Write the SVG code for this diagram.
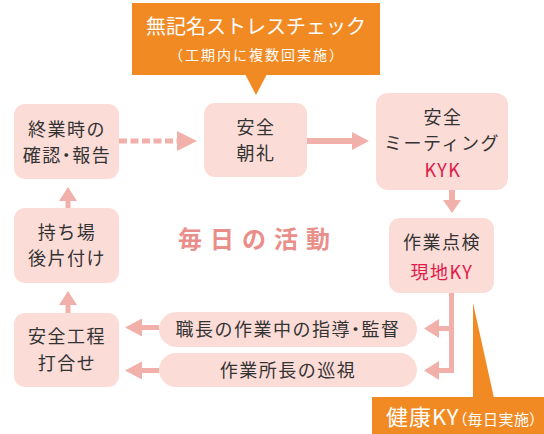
<svg xmlns="http://www.w3.org/2000/svg" width="544" height="434" viewBox="0 0 544 434">
<style>
.node{fill:#fcdcd7}
.t{font-family:"Noto Sans CJK JP","Noto Sans",sans-serif;font-size:18px;fill:#333;text-anchor:middle;letter-spacing:1.5px}
.r{fill:#e0194a}
.w{font-family:"Noto Sans CJK JP","Noto Sans",sans-serif;fill:#fff}
.p{font-feature-settings:"palt" 1}
.a{fill:#f2b0aa}
.ln{stroke:#f2b0aa;fill:none}
</style>
<rect width="544" height="434" fill="#fff"/>

<g id="callout-stress">
<rect x="132" y="3" width="248" height="72" fill="#f28a24"/>
<polygon points="245,74 267,74 256,95" fill="#f28a24"/>
<text class="w" x="256" y="34" font-size="20" text-anchor="middle">無記名ストレスチェック</text>
<text class="w" x="257" y="60" font-size="14" text-anchor="middle" letter-spacing="2">（工期内に複数回実施）</text>
</g>

<g id="callout-kenko">
<polygon points="473,303 473,398 494,398" fill="#f28a24"/>
<rect x="372" y="397" width="172" height="37" fill="#f28a24"/>
<text class="w" x="386" y="425" font-size="22" letter-spacing="1">健康KY<tspan class="p" font-size="15" letter-spacing="0.5">（毎日実施）</tspan></text>
</g>

<g id="connectors">
<line class="ln" x1="119" y1="141" x2="178" y2="141" stroke-width="5" stroke-dasharray="8 3.5"/>
<polygon class="a" points="177,131 197,141 177,151"/>
<rect class="a" x="307" y="138" width="46" height="6"/>
<polygon class="a" points="352,132 369,141 352,150"/>
<rect class="a" x="449" y="190" width="6" height="11"/>
<polygon class="a" points="443,200 461,200 452,213"/>
<rect class="a" x="65.5" y="200" width="5" height="8"/>
<polygon class="a" points="59,201 68,187 77,201"/>
<rect class="a" x="65.5" y="304" width="5" height="9"/>
<polygon class="a" points="59,305 68,291 77,305"/>
<path class="ln" d="M451.5 293 V370.5 M454 328.5 H438 M454 370.5 H438" stroke-width="5"/>
<polygon class="a" points="439,319 424,328.5 439,338"/>
<polygon class="a" points="439,361 424,370.5 439,380"/>
<rect class="a" x="141" y="325" width="18" height="5"/>
<polygon class="a" points="142,318.5 125,327.5 142,336.5"/>
<rect class="a" x="141" y="368" width="18" height="5"/>
<polygon class="a" points="142,361.5 125,370.5 142,379.5"/>
</g>

<g id="n-shugyo">
<rect class="node" x="14" y="104" width="105" height="75" rx="11"/>
<text class="t" x="67" y="136">終業時の</text>
<text class="t" x="67" y="162">確認<tspan class="p">・</tspan>報告</text>
</g>
<g id="n-chorei">
<rect class="node" x="204" y="103" width="103" height="74" rx="11"/>
<text class="t" x="256" y="134">安全</text>
<text class="t" x="256" y="160">朝礼</text>
</g>
<g id="n-meeting">
<rect class="node" x="376" y="93" width="132" height="97" rx="12"/>
<text class="t" x="443" y="124">安全</text>
<text class="t" x="442" y="150">ミーティング</text>
<text class="t r" x="443" y="177" font-size="19" letter-spacing="2">KYK</text>
</g>
<g id="n-tenken">
<rect class="node" x="389" y="218" width="105" height="75" rx="11"/>
<text class="t" x="442" y="249">作業点検</text>
<text class="t r" x="442" y="279">現地KY</text>
</g>
<g id="n-katazuke">
<rect class="node" x="14" y="208" width="105" height="75" rx="11"/>
<text class="t" x="67" y="239">持ち場</text>
<text class="t" x="67" y="265">後片付け</text>
</g>
<g id="n-uchiawase">
<rect class="node" x="14" y="313" width="105" height="74" rx="11"/>
<text class="t" x="67" y="343">安全工程</text>
<text class="t" x="67" y="370">打合せ</text>
</g>
<g id="n-shokucho">
<rect class="node" x="159" y="312" width="258" height="35" rx="17.5"/>
<text class="t" x="288" y="336" letter-spacing="2">職長の作業中の指導<tspan class="p">・</tspan>監督</text>
</g>
<g id="n-junshi">
<rect class="node" x="159" y="353" width="258" height="34" rx="17"/>
<text class="t" x="288" y="377">作業所長の巡視</text>
</g>

<text x="178" y="248" font-family="'Noto Sans CJK JP','Noto Sans',sans-serif" font-size="24" font-weight="bold" letter-spacing="8" fill="#ea8e8a">毎日の活動</text>
</svg>
